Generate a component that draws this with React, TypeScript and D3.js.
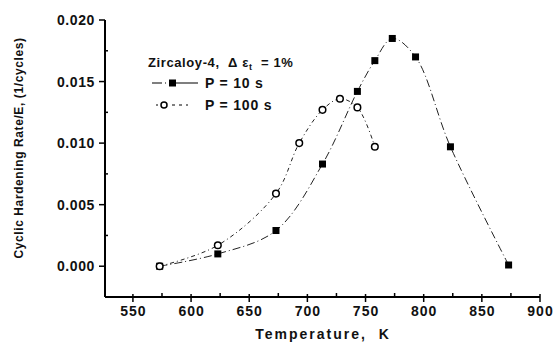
import { useEffect, useRef } from "react";
import * as d3 from "d3";

const WIDTH = 554;
const HEIGHT = 343;

// P = 10 s (filled squares)
const temps10 = [573, 623, 673, 713, 743, 758, 773, 793, 823, 873];
const rate10 = [0.0, 0.001, 0.0029, 0.0083, 0.0142, 0.0167, 0.0185, 0.017, 0.0097, 0.0001];

// P = 100 s (open circles)
const temps100 = [573, 623, 673, 693, 713, 728, 743, 758];
const rate100 = [0.0, 0.0017, 0.0059, 0.01, 0.0127, 0.0136, 0.0129, 0.0097];

const xTicks = [550, 600, 650, 700, 750, 800, 850, 900];
const xMinor = [575, 625, 675, 725, 775, 825, 875];
const yTicks = [0.0, 0.005, 0.01, 0.015, 0.02];
const yMinor = [-0.0025, 0.0025, 0.0075, 0.0125, 0.0175];

const FONT = "'Liberation Sans', Arial, sans-serif";

export default function App() {
  const ref = useRef<SVGSVGElement>(null);

  useEffect(() => {
    if (!ref.current) return;
    const svg = d3.select(ref.current);
    svg.selectAll("*").remove();

    const x = d3.scaleLinear().domain([526, 900]).range([105, 540]);
    const y = d3.scaleLinear().domain([-0.0025, 0.02]).range([297, 20]);

    const g = svg.append("g").attr("font-family", FONT).attr("fill", "#111");

    // axes lines
    g.append("line")
      .attr("x1", x(526)).attr("x2", x(900))
      .attr("y1", y(-0.0025)).attr("y2", y(-0.0025))
      .attr("stroke", "#000").attr("stroke-width", 2);
    g.append("line")
      .attr("x1", x(526)).attr("x2", x(526))
      .attr("y1", y(-0.0025)).attr("y2", y(0.02))
      .attr("stroke", "#000").attr("stroke-width", 2);

    // x ticks
    xTicks.forEach((t) => {
      g.append("line")
        .attr("x1", x(t)).attr("x2", x(t))
        .attr("y1", y(-0.0025) - 3).attr("y2", y(-0.0025) + 5)
        .attr("stroke", "#000").attr("stroke-width", 1.5);
      g.append("text")
        .attr("x", x(t) + 0.5).attr("y", 316)
        .attr("text-anchor", "middle")
        .attr("font-size", 14).attr("font-weight", "bold")
        .attr("letter-spacing", 1)
        .text(t);
    });
    xMinor.forEach((t) => {
      g.append("line")
        .attr("x1", x(t)).attr("x2", x(t))
        .attr("y1", y(-0.0025) - 4).attr("y2", y(-0.0025))
        .attr("stroke", "#000").attr("stroke-width", 1.5);
    });

    // y ticks
    yTicks.forEach((t) => {
      g.append("line")
        .attr("x1", x(526) - 6).attr("x2", x(526))
        .attr("y1", y(t)).attr("y2", y(t))
        .attr("stroke", "#000").attr("stroke-width", 1.5);
      g.append("text")
        .attr("x", x(526) - 10).attr("y", y(t) + 5)
        .attr("text-anchor", "end")
        .attr("font-size", 14).attr("font-weight", "bold")
        .attr("letter-spacing", 0.6)
        .text(t.toFixed(3));
    });
    yMinor.forEach((t) => {
      g.append("line")
        .attr("x1", x(526)).attr("x2", x(526) + 3)
        .attr("y1", y(t)).attr("y2", y(t))
        .attr("stroke", "#000").attr("stroke-width", 1.5);
    });

    // axis labels
    g.append("text")
      .attr("x", 323).attr("y", 339)
      .attr("text-anchor", "middle")
      .attr("font-size", 14).attr("font-weight", "bold")
      .attr("letter-spacing", 2)
      .attr("xml:space", "preserve")
      .text("Temperature,  K");
    g.append("text")
      .attr("transform", "translate(23,148) rotate(-90)")
      .attr("text-anchor", "middle")
      .attr("font-size", 12).attr("font-weight", "bold")
      .attr("letter-spacing", 0.6)
      .text("Cyclic Hardening Rate/E, (1/cycles)");

    // curves
    const line = d3.line<[number, number]>()
      .x((d) => x(d[0]))
      .y((d) => y(d[1]))
      .curve(d3.curveCatmullRom.alpha(0.5));

    const pts10 = temps10.map((t, i) => [t, rate10[i]] as [number, number]);
    const pts100 = temps100.map((t, i) => [t, rate100[i]] as [number, number]);

    g.append("path")
      .attr("d", line(pts10))
      .attr("fill", "none").attr("stroke", "#222").attr("stroke-width", 1)
      .attr("stroke-dasharray", "8,3,1,3");
    g.append("path")
      .attr("d", line(pts100))
      .attr("fill", "none").attr("stroke", "#222").attr("stroke-width", 1)
      .attr("stroke-dasharray", "4,3,1,3");

    g.selectAll("rect.p10")
      .data(pts10)
      .join("rect")
      .attr("class", "p10")
      .attr("x", (d) => x(d[0]) - 3.5)
      .attr("y", (d) => y(d[1]) - 3.5)
      .attr("width", 7).attr("height", 7)
      .attr("fill", "#000");

    g.selectAll("circle.p100")
      .data(pts100)
      .join("circle")
      .attr("class", "p100")
      .attr("cx", (d) => x(d[0]))
      .attr("cy", (d) => y(d[1]))
      .attr("r", 3.3)
      .attr("fill", "#fff").attr("stroke", "#000").attr("stroke-width", 1.5);

    // legend
    const title = g.append("text")
      .attr("x", 148).attr("y", 67)
      .attr("font-size", 13).attr("font-weight", "bold")
      .attr("letter-spacing", 0.6)
      .attr("xml:space", "preserve");
    title.append("tspan").text("Zircaloy-4,  Δ ε");
    title.append("tspan").attr("font-size", 9).attr("dy", 3).text("t");
    title.append("tspan").attr("dy", -3).text("  = 1%");

    g.append("line")
      .attr("x1", 152).attr("x2", 198).attr("y1", 83).attr("y2", 83)
      .attr("stroke", "#000").attr("stroke-width", 1.2)
      .attr("stroke-dasharray", "10,3,1,3,30");
    g.append("rect")
      .attr("x", 169).attr("y", 79.5).attr("width", 7).attr("height", 7)
      .attr("fill", "#000");
    g.append("text")
      .attr("x", 205).attr("y", 88)
      .attr("font-size", 14).attr("font-weight", "bold")
      .attr("letter-spacing", 0.8)
      .text("P = 10 s");

    g.append("line")
      .attr("x1", 156).attr("x2", 190).attr("y1", 105).attr("y2", 105)
      .attr("stroke", "#000").attr("stroke-width", 1)
      .attr("stroke-dasharray", "2,14,3,4,3,4");
    g.append("circle")
      .attr("cx", 164).attr("cy", 105).attr("r", 3)
      .attr("fill", "#fff").attr("stroke", "#000").attr("stroke-width", 1.5);
    g.append("text")
      .attr("x", 205).attr("y", 110)
      .attr("font-size", 14).attr("font-weight", "bold")
      .attr("letter-spacing", 0.8)
      .text("P = 100 s");
  }, []);

  return (
    <svg
      ref={ref}
      width={WIDTH}
      height={HEIGHT}
      style={{ position: "absolute", left: 0, top: 0, background: "#fff" }}
    />
  );
}
